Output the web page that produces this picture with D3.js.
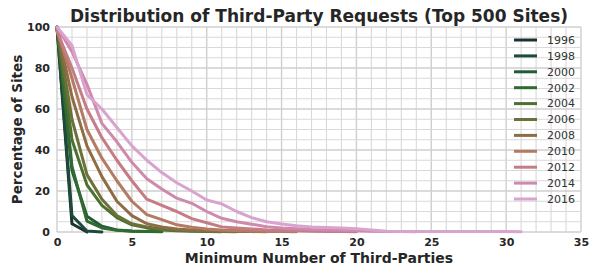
<!DOCTYPE html>
<html>
<head>
<meta charset="utf-8">
<script src="https://cdn.jsdelivr.net/npm/d3@7"></script>
<style>
    body { margin: 0; background: #fff; }
    text { font-family: 'DejaVu Sans', sans-serif; fill: #262626; }
    .tick text { font-weight: bold; font-size: 11px; }
    .domain { display: none; }
</style>
</head>
<body>
<div id="graph"></div>
<script>
// chart values
var years = ['1996', '1998', '2000', '2002', '2004', '2006', '2008', '2010', '2012', '2014', '2016'];

var s1996 = [100, 4, 0];
var s1998 = [100, 8, 0.5, 0];
var s2000 = [100, 30, 7.7, 2.8, 1, 0.5, 0.3, 0.2];
var s2002 = [100, 32, 5.3, 2, 0.8, 0.4, 0.2, 0.1];
var s2004 = [100, 45, 23, 13, 7, 3.5, 2, 1, 0.6, 0.4, 0.2, 0.1];
var s2006 = [100, 55, 28, 16, 8, 4, 2.5, 1.5, 1, 0.6, 0.4, 0.2, 0.1];
var s2008 = [100, 66, 42, 27, 15, 8, 4, 2.5, 1.5, 1, 0.7, 0.5, 0.3, 0.2, 0.1];
var s2010 = [99, 75, 50, 36, 25, 15, 8.5, 6, 3.5, 2.3, 1.5, 1, 0.7, 0.5, 0.3, 0.2, 0.1];
var s2012 = [98, 80, 60, 46, 35, 25, 16, 13, 10, 6.5, 4.5, 2.5, 2, 1.5, 1, 0.8, 0.6, 0.4, 0.3, 0.2, 0.1];
var s2014 = [100, 88, 72, 53, 44, 34, 26, 21, 16.5, 14, 10, 6.7, 5, 3.8, 2.6, 2, 1.6, 1.2, 1, 0.8, 0.6, 0.4, 0.3, 0.2, 0.1];
var s2016 = [100, 91, 67, 60, 51, 42, 35, 29, 24, 20, 15.6, 13.7, 10, 7, 5, 3.9, 3, 2.4, 2.2, 2, 1.6, 1, 0.4, 0.3, 0.3, 0.2, 0.2, 0.2, 0.2, 0.2, 0.2, 0.1];

var seriesValues = [s1996, s1998, s2000, s2002, s2004, s2006, s2008, s2010, s2012, s2014, s2016];

var colors = ['#1a3130', '#1d4a3b', '#235b36', '#306a30', '#4b7131', '#6d7139', '#8e6d45',
              '#b47b63', '#c57c86', '#cf89ac', '#d9a3cf'];

var xTicks = [0, 5, 10, 15, 20, 25, 30, 35];
var yTicks = [0, 20, 40, 60, 80, 100];

var margin = { top: 27, right: 11, bottom: 35, left: 57 };
var width  = 592 - margin.left - margin.right;
var height = 267 - margin.top  - margin.bottom;

var root = d3.select ('#graph')
             .append ('svg')
             .attr ('width', 592)
             .attr ('height', 267);

var svg = root.append ('g')
              .attr ('transform', 'translate(' + margin.left + ',' + margin.top + ')');

var xScale = d3.scaleLinear ()
               .domain ( [ 0, 35 ] )
               .range ( [ 0, width ] );

var yScale = d3.scaleLinear ()
               .domain ( [ 0, 100 ] )
               .range ( [ height, 0 ] );

// grid: every unit in x, every 5 in y; labelled ticks a bit stronger
svg.append ('g')
   .selectAll ('line')
   .data (d3.range (0, 36))
   .enter ()
   .append ('line')
   .attr ('x1', function(d) { return xScale(d); })
   .attr ('x2', function(d) { return xScale(d); })
   .attr ('y1', 0)
   .attr ('y2', height)
   .style ('stroke', function(d) { return d % 5 === 0 ? '#cfcfcf' : '#d9d9d9'; })
   .style ('stroke-width', function(d) { return d % 5 === 0 ? 1.4 : 1.1; });

svg.append ('g')
   .selectAll ('line')
   .data (d3.range (0, 101, 5))
   .enter ()
   .append ('line')
   .attr ('x1', 0)
   .attr ('x2', width)
   .attr ('y1', function(d) { return yScale(d); })
   .attr ('y2', function(d) { return yScale(d); })
   .style ('stroke', function(d) { return d % 20 === 0 ? '#cfcfcf' : '#d9d9d9'; })
   .style ('stroke-width', function(d) { return d % 20 === 0 ? 1.4 : 1.1; });

// axes (labels only)
svg.append ('g')
   .attr ('class', 'x axis')
   .attr ('transform', 'translate(0,' + height + ')')
   .call (d3.axisBottom (xScale).tickValues (xTicks).tickSize (0).tickPadding (6));

svg.append ('g')
   .attr ('class', 'y axis')
   .call (d3.axisLeft (yScale).tickValues (yTicks).tickSize (0).tickPadding (7));

// series lines
var line = d3.line ()
             .x (function(d, i) { return xScale(i); })
             .y (function(d) { return yScale(d); })
             .curve (d3.curveLinear);

svg.append ('g')
   .selectAll ('path')
   .data (seriesValues)
   .enter ()
   .append ('path')
   .attr ('d', line)
   .style ('fill', 'none')
   .style ('stroke', function(d, i) { return colors[i]; })
   .style ('stroke-width', 3)
   .style ('stroke-linejoin', 'round')
   .style ('stroke-linecap', 'round');

// legend
var legend = svg.append ('g')
                .attr ('transform', 'translate(457,13)');

var rows = legend.selectAll ('g')
                 .data (years)
                 .enter ()
                 .append ('g')
                 .attr ('transform', function(d, i) { return 'translate(0,' + (i * 15.9) + ')'; });

rows.append ('line')
    .attr ('x1', 0)
    .attr ('x2', 23)
    .style ('stroke', function(d, i) { return colors[i]; })
    .style ('stroke-width', 3);

rows.append ('text')
    .attr ('x', 33)
    .attr ('dy', '0.35em')
    .style ('font-size', '11px')
    .style ('fill', '#333')
    .text (function(d) { return d; });

// titles
root.append ('text')
    .attr ('x', margin.left + width / 2)
    .attr ('y', 22)
    .attr ('text-anchor', 'middle')
    .style ('font-size', '17px')
    .style ('font-weight', 'bold')
    .text ('Distribution of Third-Party Requests (Top 500 Sites)');

root.append ('text')
    .attr ('x', margin.left + width / 2)
    .attr ('y', 263)
    .attr ('text-anchor', 'middle')
    .style ('font-size', '14px')
    .style ('font-weight', 'bold')
    .text ('Minimum Number of Third-Parties');

root.append ('text')
    .attr ('transform', 'translate(22,' + (margin.top + height / 2) + ') rotate(-90)')
    .attr ('text-anchor', 'middle')
    .style ('font-size', '13.5px')
    .style ('font-weight', 'bold')
    .text ('Percentage of Sites');
</script>
</body>
</html>
